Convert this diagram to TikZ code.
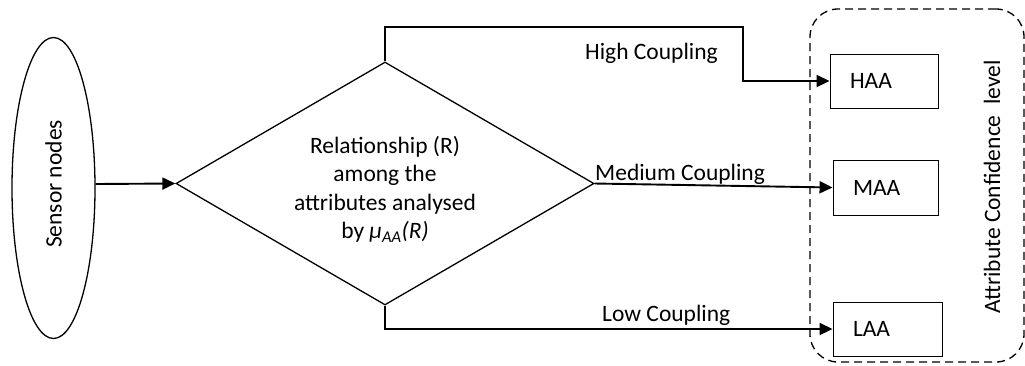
\documentclass[tikz,border=0pt]{standalone}
\usepackage{fontspec}
\setmainfont{Carlito}
\usetikzlibrary{shapes.geometric,arrows.meta}
\begin{document}
\begin{tikzpicture}[x=1pt,y=-1pt,
  every node/.style={font=\fontsize{23.5}{28.5}\selectfont},
  flow/.style={line width=1.9pt,-{Triangle[length=13pt,width=12pt]}},
  levelbox/.style={draw,line width=0.9pt,rectangle,minimum height=54pt,align=left,inner xsep=20pt},
  lbl/.style={anchor=base west,inner sep=0pt}]
\useasboundingbox (0,0) rectangle (1025,365);

% source and decision
\node[draw,ellipse,line width=1.3pt,minimum width=83pt,minimum height=301pt,inner sep=0pt] (sensor) at (53.5,188) {};
\node[rotate=90] (sensortext) at (53.5,184) {Sensor nodes};
\node[draw,diamond,line width=1.3pt,minimum width=418pt,minimum height=243pt,inner sep=0pt] (dec) at (385,183.5) {};
\node[align=center,inner sep=0pt] (dectext) at ([yshift=-6pt]dec.center)
  {Relationship (R)\\among the\\attributes analysed\\by \textit{μ}\textsubscript{\textit{AA}}\textit{(R)}};

% confidence levels
\node[draw,dashed,dash pattern=on 8pt off 5pt,line width=1.3pt,rounded corners=28pt,
      minimum width=214pt,minimum height=353pt] (group) at (917,185.5) {};
\node[rotate=90] (grouptext) at (992,187) {Attribute Confidence\hspace{0.45em}level};
\node[levelbox,text width=68pt,inner xsep=20pt] (haa) at (884,81) {HAA};
\node[levelbox,text width=65pt,minimum height=55pt] (maa) at (885.5,187.5) {MAA};
\node[levelbox,text width=69pt] (laa) at (887.5,329) {LAA};

% connectors
\coordinate (hup) at (385,27);
\coordinate (hturn) at (743,27);
\draw[flow] (sensor.east |- 0,184) -- (dec.west);
\draw[flow] (dec.north) -- (hup) -- (hturn) |- (haa.west);
\draw[flow] (dec.east) -- (maa.west);
\draw[flow] (dec.south) |- (laa.west);

% branch labels
\node[lbl] (lhigh) at (585,59) {High Coupling};
\node[lbl] (lmed) at (595,180) {Medium Coupling};
\node[lbl] (llow) at (602,321) {Low Coupling};
\end{tikzpicture}
\end{document}
